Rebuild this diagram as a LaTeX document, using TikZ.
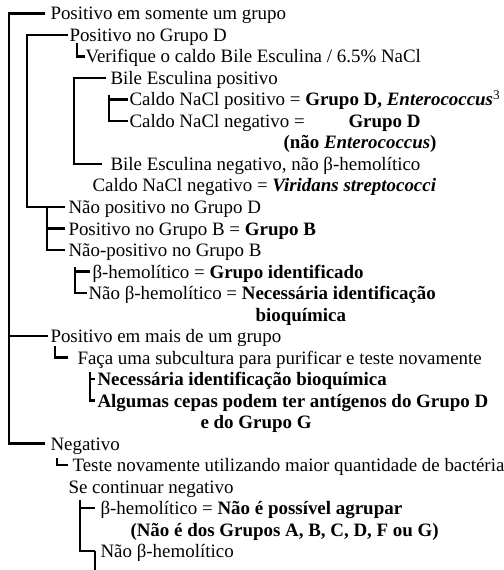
\documentclass[tikz,border=0pt]{standalone}
\usepackage{fontspec}
\setmainfont{Liberation Serif}
\tikzset{every picture/.style={line width=0.75pt}}
\tikzset{
  brk/.style={line width=1.65pt},
  txt/.style={anchor=west, inner ysep=0pt, inner xsep=1.5pt, text height=12.75pt, text depth=3pt},
}
\begin{document}
\begin{tikzpicture}[x=0.75pt,y=0.75pt,yscale=-1,xscale=1,font=\fontsize{14.2}{16}\selectfont]
    %set diagram left start at 0, and has height of 570
    \useasboundingbox (0,0) rectangle (503,570);

    % Text Node
    \node [txt, inner xsep=3.75pt] (somente) at (45,13.5) {Positivo em somente um grupo};
    % Text Node
    \node [txt, inner xsep=0.75pt] (posD) at (68,35) {Positivo no Grupo D};
    % Text Node
    \node [txt, inner xsep=0pt] (verif) at (85,56.5) {Verifique o caldo Bile Esculina / 6.5\% NaCl};
    % Text Node
    \node [txt, inner xsep=3pt] (bileP) at (106,78) {Bile Esculina positivo};
    % Text Node
    \node [txt, inner xsep=0.75pt] (naclP) at (128,99.5) {Caldo NaCl positivo = \textbf{Grupo D, \textit{Enterococcus}}\textsuperscript{3}};
    % Text Node
    \node [txt, inner xsep=0.75pt] (naclN) at (128,121) {Caldo NaCl negativo =};
    % Text Node
    \node [txt, inner xsep=0pt] (grD) at (348,121) {\textbf{Grupo D}};
    % Text Node
    \node [txt, inner xsep=0pt] (naoEnt) at (283,142.5) {\textbf{(não \textit{Enterococcus})}};
    % Text Node
    \node [txt, inner xsep=6pt] (bileN) at (102,164) {Bile Esculina negativo, não β-hemolítico};
    % Text Node
    \node [txt, inner xsep=0pt] (viri) at (92,185.5) {Caldo NaCl negativo = \textbf{\textit{Viridans streptococci}}};
    % Text Node
    \node [txt, inner xsep=2.25pt] (naoD) at (65,207) {Não positivo no Grupo D};
    % Text Node
    \node [txt, inner xsep=2.25pt] (posB) at (65,228.5) {Positivo no Grupo B = \textbf{Grupo B}};
    % Text Node
    \node [txt, inner xsep=2.25pt] (naoB) at (65,250) {Não-positivo no Grupo B};
    % Text Node
    \node [txt] (betaA) at (90,271.5) {β-hemolítico = \textbf{Grupo identificado}};
    % Text Node
    \node [txt, inner xsep=0.75pt] (naoBetaA) at (87,293) {Não β-hemolítico = \textbf{Necessária identificação}};
    % Text Node
    \node [txt, inner xsep=0pt] (bioqA) at (255,314.5) {\textbf{bioquímica}};
    % Text Node
    \node [txt] (mais) at (48,336) {Positivo em mais de um grupo};
    % Text Node
    \node [txt, inner xsep=6.75pt] (faca) at (68,357.5) {Faça uma subcultura para purificar e teste novamente};
    % Text Node
    \node [txt] (bioqB) at (95,379) {\textbf{Necessária identificação bioquímica}};
    % Text Node
    \node [txt] (cepas) at (95,400.5) {\textbf{Algumas cepas podem ter antígenos do Grupo D}};
    % Text Node
    \node [txt, inner xsep=0pt] (grG) at (200,422) {\textbf{e do Grupo G}};
    % Text Node
    \node [txt, inner xsep=3.75pt] (neg) at (45,443.5) {Negativo};
    % Text Node
    \node [txt, inner xsep=3pt] (teste) at (68,465) {Teste novamente utilizando maior quantidade de bactéria};
    % Text Node
    \node [txt, inner xsep=0pt] (secont) at (68,486.5) {Se continuar negativo};
    % Text Node
    \node [txt, inner xsep=3.75pt] (betaB) at (95,508) {β-hemolítico = \textbf{Não é possível agrupar}};
    % Text Node
    \node [txt, inner xsep=0pt] (naoGrupos) at (130,529.5) {\textbf{(Não é dos Grupos A, B, C, D, F ou G)}};
    % Text Node
    \node [txt, inner xsep=3.75pt] (naoBetaB) at (95,551) {Não β-hemolítico};

    % bracket corners
    \coordinate (sA) at (9,0);
    \coordinate (sB) at (27,0);
    \coordinate (cVer) at (77,43);
    \coordinate (sD) at (74,0);
    \coordinate (cNa) at (109,95);
    \coordinate (sF) at (47,0);
    \coordinate (cBeta) at (75,267);
    \coordinate (cFaca) at (55,346);
    \coordinate (cBioq) at (90,372);
    \coordinate (cTeste) at (57,458);
    \coordinate (cHem) at (80,500);
    \coordinate (stub) at (95,570);

    %Straight Lines
    \draw [brk] (somente.west) -- (somente.west -| sA) |- (neg.west);
    \draw [brk] (mais.west -| sA) -- (mais.west);
    %Straight Lines
    \draw [brk] (posD.west) -- (posD.west -| sB) |- (naoD.west);
    \draw [brk] (cVer) |- (verif.west);
    %Straight Lines
    \draw [brk] (bileP.west) -- (bileP.west -| sD) |- (bileN.west);
    \draw [brk] (cNa) |- (naclN.west);
    \draw [brk] (naclP.west -| cNa) -- (naclP.west);
    %Straight Lines
    \draw [brk] (naoD.west -| sF) |- (naoB.west);
    \draw [brk] (posB.west -| sF) -- (posB.west);
    \draw [brk] (cBeta) |- (naoBetaA.west);
    \draw [brk] (betaA.west -| cBeta) -- (betaA.west);
    %Straight Lines
    \draw [brk] (cFaca) |- (faca.west);
    \draw [brk] (cBioq) |- (cepas.west);
    \draw [brk] (bioqB.west -| cBioq) -- (bioqB.west);
    %Straight Lines
    \draw [brk] (cTeste) |- (teste.west);
    \draw [brk] (cHem) |- (naoBetaB.west);
    \draw [brk] (betaB.west -| cHem) -- (betaB.west);
    \draw [brk] (naoBetaB.west) -- (stub);

    \end{tikzpicture}
\end{document}
